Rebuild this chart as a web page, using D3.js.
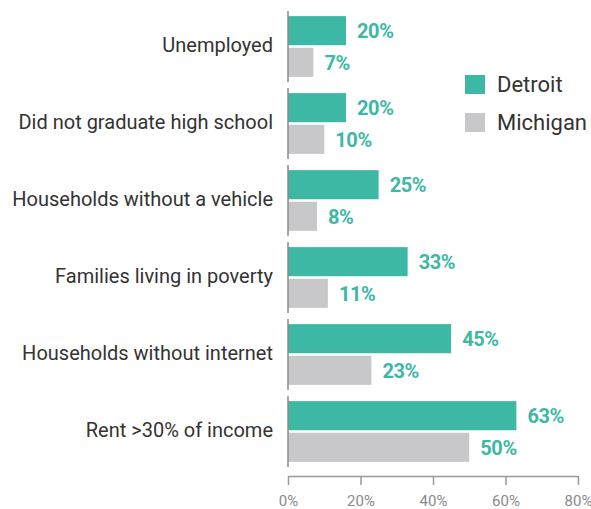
<!DOCTYPE html>
<html>
<head>
<meta charset="utf-8">
<script src="https://cdn.jsdelivr.net/npm/d3@7/dist/d3.min.js"></script>
<style>
  body { margin: 0; background: #fff; }
  svg { display: block; font-family: Roboto, "Noto Sans", sans-serif; }
</style>
</head>
<body>
<svg id="chart" width="591" height="509"></svg>
<script>
const categories = [
  "Unemployed",
  "Did not graduate high school",
  "Households without a vehicle",
  "Families living in poverty",
  "Households without internet",
  "Rent >30% of income"
];
const seriesNames = ["Detroit", "Michigan"];
// bar lengths as drawn in the picture
const detroitValues = [16, 16, 25, 33, 45, 63];
const michiganValues = [7, 10, 8, 11, 23, 50];
// labels as printed in the picture
const detroitLabels = ["20%", "20%", "25%", "33%", "45%", "63%"];
const michiganLabels = ["7%", "10%", "8%", "11%", "23%", "50%"];
const xTicks = [0, 20, 40, 60, 80];

const colors = { Detroit: "#3db8a4", Michigan: "#c8c8ca" };
const labelColor = "#3db8a4";

const svg = d3.select("#chart");

const x = d3.scaleLinear().domain([0, 80]).range([288, 578]);
const y = d3.scaleBand().domain(categories).range([8, 470])
  .paddingInner(0.08).paddingOuter(0.04);
const yInner = d3.scaleBand().domain(seriesNames).range([0, y.bandwidth()])
  .paddingInner(0.08).paddingOuter(0.16);

const rows = categories.map((c, i) => ({
  cat: c,
  bars: [
    { s: "Detroit", v: detroitValues[i], label: detroitLabels[i] },
    { s: "Michigan", v: michiganValues[i], label: michiganLabels[i] }
  ]
}));

const groups = svg.selectAll("g.grp").data(rows).join("g")
  .attr("class", "grp")
  .attr("transform", d => `translate(0,${y(d.cat)})`);

groups.selectAll("rect").data(d => d.bars).join("rect")
  .attr("x", x(0))
  .attr("y", d => yInner(d.s))
  .attr("width", d => x(d.v) - x(0))
  .attr("height", yInner.bandwidth())
  .attr("fill", d => colors[d.s]);

groups.selectAll("text.val").data(d => d.bars).join("text")
  .attr("class", "val")
  .attr("x", d => x(d.v) + 11)
  .attr("y", d => yInner(d.s) + yInner.bandwidth() / 2)
  .attr("dy", "0.36em")
  .attr("font-size", 20)
  .attr("letter-spacing", -0.4)
  .attr("font-weight", 700)
  .attr("fill", labelColor)
  .text(d => d.label);

// left axis segments per group
groups.append("line")
  .attr("x1", x(0)).attr("x2", x(0))
  .attr("y1", 0).attr("y2", y.bandwidth())
  .attr("stroke", "#8a8a8a").attr("stroke-width", 1.5);

groups.append("text")
  .attr("x", 273)
  .attr("y", y.bandwidth() / 2)
  .attr("dy", "0.28em")
  .attr("text-anchor", "end")
  .attr("font-size", 20)
  .attr("fill", "#333")
  .text(d => d.cat);

// bottom axis
const xAxis = d3.axisBottom(x).tickValues(xTicks).tickFormat(d => d + "%")
  .tickSize(9).tickSizeOuter(0).tickPadding(10);
const gx = svg.append("g").attr("transform", "translate(0,476)").call(xAxis);
gx.select(".domain").attr("stroke", "#999").attr("stroke-width", 1.5);
gx.selectAll(".tick line").attr("stroke", "#999").attr("stroke-width", 1.5);
gx.selectAll(".tick text").attr("fill", "#8a8a8a").attr("font-size", 15)
  .attr("font-family", "Roboto, sans-serif");

// legend
const legend = svg.append("g").attr("transform", "translate(465,75)");
const li = legend.selectAll("g").data(seriesNames).join("g")
  .attr("transform", (d, i) => `translate(0,${i * 38})`);
li.append("rect").attr("width", 20).attr("height", 19)
  .attr("fill", d => colors[d]);
li.append("text").attr("x", 32).attr("y", 9.5).attr("dy", "0.36em")
  .attr("font-size", 22).attr("fill", "#333").text(d => d);
</script>
</body>
</html>
